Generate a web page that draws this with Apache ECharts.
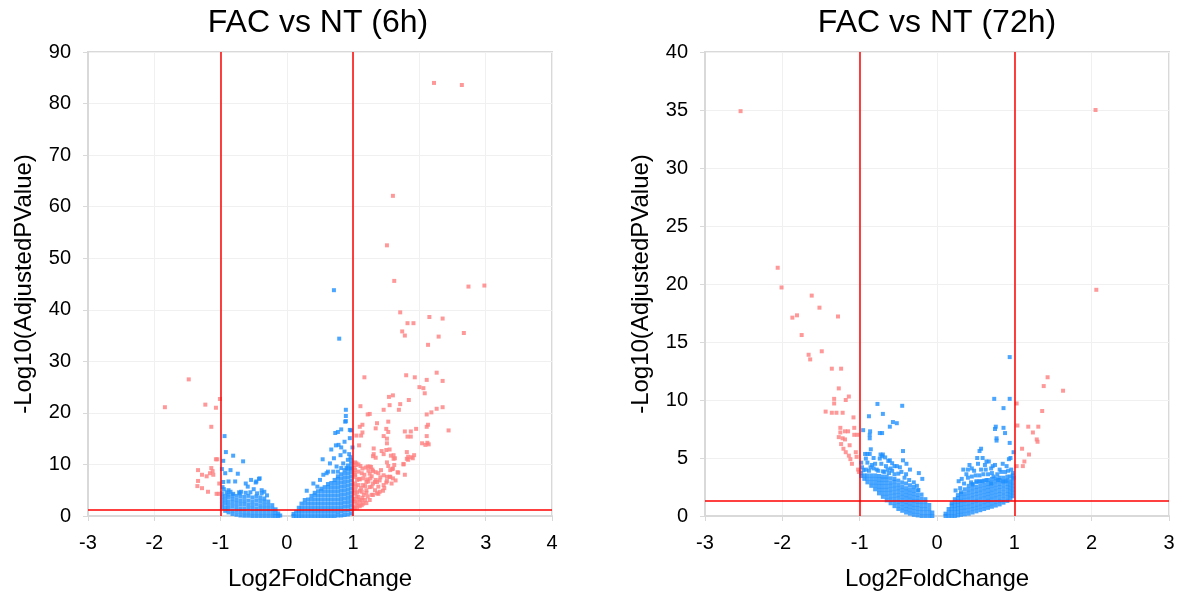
<!DOCTYPE html>
<html>
<head>
<meta charset="utf-8">
<title>FAC vs NT volcano plots</title>
<script src="https://cdn.jsdelivr.net/npm/echarts@6/dist/echarts.min.js"></script>
<style>
  html, body { margin: 0; padding: 0; background: #fff; }
  #chart { width: 1179px; height: 594px; }
</style>
</head>
<body>
<div id="chart"></div>
<script>
// cut-offs drawn as red guide lines
const FC_CUT = 1;
const PADJ_LINE = 1.3;

// ---------- FAC vs NT (6h) ----------
// dense blue core, columns of [log2FC, [-log10 padj ...]]
const h6NegCore = [
  [-0.98, [1.6, 2.3, 3.0, 3.7, 4.4]],
  [-0.93, [1.0, 1.7, 2.5, 3.2, 3.9]],
  [-0.88, [0.7, 1.4, 2.1, 2.8, 3.6, 4.2]],
  [-0.82, [0.4, 1.1, 1.9, 2.6, 3.3, 4.0]],
  [-0.76, [0.25, 1.0, 1.7, 2.4, 3.1, 3.9]],
  [-0.70, [0.1, 0.8, 1.5, 2.3, 3.0, 3.8]],
  [-0.64, [0.05, 0.7, 1.4, 2.2, 2.9, 3.7]],
  [-0.58, [0.05, 0.7, 1.5, 2.2, 3.0, 3.9]],
  [-0.52, [0.0, 0.7, 1.4, 2.1, 2.8, 3.6]],
  [-0.46, [0.0, 0.7, 1.4, 2.2, 3.0, 3.8]],
  [-0.40, [0.0, 0.7, 1.4, 2.1, 2.9, 3.6]],
  [-0.34, [0.0, 0.7, 1.4, 2.1, 2.8, 3.4]],
  [-0.28, [0.0, 0.7, 1.4, 2.1, 2.8]],
  [-0.22, [0.0, 0.7, 1.4, 2.1]],
  [-0.17, [0.0, 0.6, 1.3]],
  [-0.13, [0.0, 0.5]],
  [-0.10, [0.1]]
];
const h6PosCore = [
  [0.10, [0.0, 0.4]],
  [0.14, [0.0, 0.8]],
  [0.18, [0.0, 0.8, 1.6]],
  [0.22, [0.0, 0.8, 1.6, 2.4]],
  [0.27, [0.0, 0.8, 1.6, 2.4, 3.1]],
  [0.32, [0.0, 0.8, 1.6, 2.4, 3.2]],
  [0.37, [0.0, 0.8, 1.6, 2.4, 3.2, 3.9]],
  [0.42, [0.0, 0.8, 1.6, 2.4, 3.2, 4.0, 4.5]],
  [0.47, [0.0, 0.8, 1.6, 2.4, 3.2, 4.0, 4.8]],
  [0.52, [0.0, 0.8, 1.6, 2.4, 3.2, 4.0, 4.8, 5.3]],
  [0.57, [0.0, 0.8, 1.6, 2.4, 3.2, 4.0, 4.8, 5.6]],
  [0.62, [0.0, 0.8, 1.6, 2.4, 3.2, 4.0, 4.8, 5.6, 6.2]],
  [0.67, [0.0, 0.8, 1.6, 2.4, 3.2, 4.0, 4.8, 5.6, 6.4]],
  [0.72, [0.0, 0.8, 1.6, 2.4, 3.2, 4.0, 4.8, 5.6, 6.4, 7.0]],
  [0.77, [0.1, 0.8, 1.6, 2.4, 3.2, 4.0, 4.8, 5.6, 6.4, 7.2, 7.7]],
  [0.82, [0.1, 0.9, 1.7, 2.5, 3.3, 4.1, 4.9, 5.7, 6.5, 7.3, 8.1]],
  [0.87, [0.2, 1.0, 1.8, 2.6, 3.4, 4.2, 5.0, 5.8, 6.6, 7.4, 8.2, 8.9]],
  [0.92, [0.3, 1.1, 1.9, 2.7, 3.5, 4.3, 5.1, 5.9, 6.7, 7.5, 8.3, 9.1, 9.8]],
  [0.97, [0.5, 1.3, 2.1, 2.9, 3.7, 4.5, 5.3, 6.1, 6.9, 7.7, 8.5, 9.3, 10.1, 10.8]]
];
const h6Blue = [
  [0.71, 43.8], [0.79, 34.4], [0.89, 20.6], [0.89, 19.4], [0.89, 18.4], [0.82, 16.8], [0.77, 16.3],
  [0.73, 16.1], [0.97, 16.6], [0.87, 14.4], [0.95, 15.1], [0.74, 13.7], [0.67, 12.9], [0.82, 13.3],
  [0.87, 12.5], [0.99, 13.3], [0.81, 11.8], [0.71, 11.2], [0.54, 11.0], [0.65, 10.2], [0.92, 10.9],
  [0.85, 10.2], [0.75, 9.6], [0.82, 9.3], [0.90, 9.3], [0.97, 9.2], [0.62, 8.6], [0.70, 8.6],
  [0.77, 8.6], [0.55, 8.0], [0.50, 7.0], [0.40, 6.3], [0.30, 4.9], [0.46, 5.7], [0.60, 8.3],
  [0.78, 13.8], [0.95, 16.7], [0.88, 18.3], [0.94, 12.0], [0.96, 11.4],
  [-0.94, 15.5], [-0.92, 12.4], [-0.81, 11.7], [-0.66, 10.6], [-0.96, 10.7], [-0.98, 9.1],
  [-0.93, 8.3], [-0.85, 8.9], [-0.74, 8.2], [-0.96, 6.6], [-0.88, 6.7], [-0.78, 6.7], [-0.54, 7.0],
  [-0.42, 7.2], [-0.62, 6.3], [-0.47, 6.5], [-0.59, 5.7], [-0.34, 4.7], [-0.88, 5.0], [-0.81, 4.3],
  [-0.71, 4.4], [-0.46, 6.7], [-0.41, 7.3], [-0.69, 4.7], [-0.50, 5.2], [-0.38, 5.0], [-0.97, 5.6],
  [-0.91, 4.6], [-0.95, 5.2], [-0.85, 4.7], [-0.72, 4.6], [-0.62, 4.5], [-0.55, 4.6], [-0.45, 4.4],
  [-0.38, 4.4], [-0.30, 4.0]
];
const h6Red = [
  [2.22, 84.0], [2.64, 83.6], [1.60, 62.1], [1.51, 52.5], [1.62, 45.6], [2.74, 44.5], [2.98, 44.7],
  [1.71, 39.5], [1.82, 37.4], [1.91, 37.4], [2.15, 38.6], [2.35, 38.3], [1.74, 35.8], [1.78, 35.0],
  [2.67, 35.5], [2.29, 34.8], [2.13, 33.2],
  [1.17, 26.9], [1.80, 27.3], [1.93, 26.9], [2.11, 26.4], [2.26, 27.8], [2.35, 26.2], [2.00, 25.0],
  [2.06, 24.8], [2.08, 23.8], [1.54, 23.1], [1.60, 23.4], [1.84, 22.5], [1.71, 21.7], [1.55, 21.5],
  [1.11, 21.3], [1.46, 20.6], [1.69, 20.6], [2.35, 21.1], [2.26, 20.8], [2.18, 20.1], [2.11, 19.7],
  [1.25, 19.8], [1.22, 19.7], [1.53, 18.3], [1.36, 18.0], [1.14, 17.7], [2.13, 17.7], [2.11, 17.3],
  [1.34, 17.0], [1.10, 17.3], [1.50, 16.9], [1.53, 16.3], [2.44, 16.6], [1.78, 16.4], [1.87, 16.4],
  [1.95, 16.9], [1.82, 15.4], [1.87, 15.4], [2.11, 15.5], [1.14, 16.2], [1.12, 15.6], [1.05, 15.6],
  [1.46, 15.5], [1.51, 15.0], [1.51, 14.1], [2.04, 14.1], [2.12, 14.2], [2.09, 13.8], [2.14, 13.9],
  [1.09, 13.7], [1.31, 13.1], [1.43, 12.6], [1.50, 12.8], [1.55, 12.9], [1.81, 12.4], [1.31, 12.0],
  [1.46, 12.0], [1.57, 11.7], [1.83, 11.5], [1.92, 11.8], [1.81, 11.1], [1.61, 11.1], [1.51, 10.4],
  [1.62, 9.9], [1.76, 10.0], [1.03, 10.4], [1.08, 10.0], [1.14, 9.2], [1.22, 9.6], [1.27, 9.5],
  [1.30, 8.7], [1.34, 8.5], [1.25, 8.2], [1.59, 9.1], [1.67, 8.5], [1.78, 8.0], [1.51, 7.6],
  [1.55, 7.6], [1.64, 6.9], [1.58, 6.3], [1.40, 6.9], [1.33, 6.6], [1.20, 6.6], [1.09, 7.2],
  [1.15, 6.0], [1.25, 5.6], [1.45, 4.9], [1.38, 4.3], [1.30, 4.1], [1.20, 4.5], [1.10, 4.9],
  [1.05, 3.8], [1.13, 3.1], [1.20, 2.5], [1.08, 2.1], [1.03, 2.8], [1.03, 5.0], [1.03, 6.3],
  [1.03, 7.6], [1.02, 8.4], [1.04, 5.7],
  [1.05, 10.2], [1.11, 9.7], [1.19, 9.4], [1.25, 9.6], [1.29, 9.0], [1.23, 8.8], [1.53, 9.7],
  [1.60, 9.2], [1.56, 8.9], [1.68, 8.4], [1.41, 7.5], [1.34, 7.0], [1.26, 7.3], [1.23, 6.7],
  [1.15, 7.3], [1.10, 7.1], [1.08, 6.0], [1.56, 7.6], [1.60, 7.3], [1.51, 6.8], [1.46, 6.0],
  [1.38, 5.7], [1.33, 5.0], [1.28, 5.7], [1.20, 5.0], [1.13, 4.7], [1.16, 4.1], [1.08, 3.7],
  [1.03, 4.4], [1.10, 2.8], [1.05, 2.5], [1.18, 3.1], [1.36, 4.4], [1.28, 4.1], [1.30, 11.6],
  [1.34, 11.3], [1.61, 11.8], [1.63, 11.2], [1.88, 11.4], [1.76, 10.1], [1.83, 10.9], [1.90, 11.2],
  [1.42, 8.9], [1.46, 7.9], [1.38, 8.3], [1.13, 8.3], [1.03, 8.0], [1.03, 8.9], [1.04, 9.9],
  [1.03, 1.8], [1.13, 2.1], [1.25, 3.1], [1.40, 4.7], [1.02, 1.5], [1.06, 1.6], [1.10, 1.9],
  [1.15, 2.4], [1.08, 3.2], [1.14, 3.5], [1.22, 3.8], [1.02, 3.3], [1.06, 4.6], [1.12, 5.4],
  [1.18, 5.8], [1.06, 7.0], [1.02, 9.3], [1.08, 8.6], [1.17, 8.0], [1.21, 7.1], [1.30, 6.3],
  [1.36, 6.6], [1.28, 7.7], [1.47, 5.4], [1.50, 6.5],
  [-1.48, 26.5], [-1.84, 21.1], [-1.23, 21.6], [-1.07, 21.0], [-1.01, 22.7], [-1.14, 17.3],
  [-1.07, 11.0], [-1.05, 11.0], [-1.34, 8.9], [-1.28, 8.0], [-1.21, 7.7], [-1.14, 9.3], [-1.12, 8.7],
  [-1.16, 8.3], [-1.11, 8.0], [-1.34, 6.8], [-1.35, 5.8], [-1.28, 5.4], [-1.19, 4.7], [-1.06, 4.3],
  [-1.03, 4.3], [-1.02, 6.3]
];

// ---------- FAC vs NT (72h) ----------
const h72NegCore = [
  [-0.98, [3.45, 3.7]],
  [-0.94, [3.2, 3.5]],
  [-0.90, [2.9, 3.2, 3.5]],
  [-0.85, [2.6, 2.9, 3.2, 3.5]],
  [-0.80, [2.3, 2.6, 2.9, 3.2, 3.5]],
  [-0.75, [1.95, 2.25, 2.55, 2.85, 3.15, 3.45]],
  [-0.70, [1.65, 1.95, 2.25, 2.55, 2.85, 3.15, 3.4]],
  [-0.65, [1.35, 1.65, 1.95, 2.25, 2.55, 2.85, 3.15, 3.4]],
  [-0.60, [1.1, 1.4, 1.7, 2.0, 2.3, 2.6, 2.9, 3.25]],
  [-0.55, [0.85, 1.15, 1.45, 1.75, 2.05, 2.35, 2.65, 2.95, 3.2]],
  [-0.50, [0.6, 0.9, 1.2, 1.5, 1.8, 2.1, 2.4, 2.7, 3.05]],
  [-0.45, [0.45, 0.75, 1.05, 1.35, 1.65, 1.95, 2.25, 2.55, 2.9]],
  [-0.40, [0.3, 0.6, 0.9, 1.2, 1.5, 1.8, 2.1, 2.4, 2.8]],
  [-0.35, [0.2, 0.5, 0.8, 1.1, 1.4, 1.7, 2.0, 2.3, 2.65]],
  [-0.30, [0.1, 0.4, 0.7, 1.0, 1.3, 1.6, 1.9, 2.2, 2.5]],
  [-0.25, [0.05, 0.35, 0.65, 0.95, 1.25, 1.55, 1.85, 2.2]],
  [-0.20, [0.0, 0.3, 0.6, 0.9, 1.2, 1.5, 1.85]],
  [-0.15, [0.0, 0.3, 0.6, 0.9, 1.2, 1.45]],
  [-0.10, [0.0, 0.3, 0.6, 0.95]],
  [-0.06, [0.0, 0.3]]
];
const h72PosCore = [
  [0.11, [0.0, 0.2]],
  [0.15, [0.0, 0.3, 0.6]],
  [0.19, [0.0, 0.3, 0.6, 0.9, 1.1]],
  [0.23, [0.0, 0.3, 0.6, 0.9, 1.2, 1.45]],
  [0.27, [0.05, 0.35, 0.65, 0.95, 1.25, 1.55, 1.8]],
  [0.31, [0.1, 0.4, 0.7, 1.0, 1.3, 1.6, 1.9, 2.05]],
  [0.36, [0.15, 0.45, 0.75, 1.05, 1.35, 1.65, 1.95, 2.3]],
  [0.41, [0.2, 0.5, 0.8, 1.1, 1.4, 1.7, 2.0, 2.3, 2.6]],
  [0.46, [0.3, 0.6, 0.9, 1.2, 1.5, 1.8, 2.1, 2.4, 2.75]],
  [0.51, [0.4, 0.7, 1.0, 1.3, 1.6, 1.9, 2.2, 2.5, 2.9]],
  [0.56, [0.5, 0.8, 1.1, 1.4, 1.7, 2.0, 2.3, 2.6, 2.95]],
  [0.61, [0.6, 0.9, 1.2, 1.5, 1.8, 2.1, 2.4, 2.7, 3.05]],
  [0.66, [0.7, 1.0, 1.3, 1.6, 1.9, 2.2, 2.5, 2.8, 3.1]],
  [0.71, [0.8, 1.1, 1.4, 1.7, 2.0, 2.3, 2.6, 2.9, 3.2]],
  [0.76, [0.9, 1.2, 1.5, 1.8, 2.1, 2.4, 2.7, 3.0, 3.25]],
  [0.81, [1.0, 1.3, 1.6, 1.9, 2.2, 2.5, 2.8, 3.1, 3.3]],
  [0.86, [1.15, 1.45, 1.75, 2.05, 2.35, 2.65, 2.95, 3.3]],
  [0.91, [1.3, 1.6, 1.9, 2.2, 2.5, 2.8, 3.1, 3.4]],
  [0.95, [1.5, 1.8, 2.1, 2.4, 2.7, 3.0, 3.4]],
  [0.98, [1.7, 2.0, 2.3, 2.6, 2.9, 3.2, 3.5]]
];
const h72Blue = [
  [0.94, 13.7], [0.74, 10.1], [0.94, 10.1], [0.86, 9.3], [-0.77, 9.66], [-0.45, 9.5], [-0.88, 8.6],
  [-0.70, 8.8], [-0.57, 8.1], [-0.52, 8.0], [-0.61, 7.7], [-0.955, 7.4], [-0.865, 7.3], [-0.87, 7.0],
  [-0.74, 7.15], [-0.71, 7.15], [-0.87, 6.7], [0.75, 7.5], [0.76, 7.7], [0.86, 7.6], [0.88, 7.15],
  [0.77, 6.7], [0.77, 6.5], [0.94, 6.3], [0.99, 5.5], [0.95, 5.0], [0.93, 4.9], [-0.44, 5.6],
  [-0.856, 5.75], [-0.87, 5.35], [-0.93, 5.35], [-0.90, 5.35], [-0.73, 5.3], [-0.70, 5.3],
  [-0.74, 4.95], [-0.71, 5.15], [-0.61, 4.8], [-0.58, 4.55], [-0.395, 4.5], [-0.55, 4.3],
  [-0.35, 4.0], [-0.235, 3.7], [-0.19, 3.2], [-0.24, 2.24], [0.57, 5.8], [0.55, 5.6], [0.52, 5.0],
  [0.59, 5.0], [0.64, 4.7], [0.67, 4.7], [0.72, 4.3], [0.75, 4.4], [0.81, 4.0], [0.34, 4.0],
  [0.40, 4.0], [0.45, 4.1], [0.48, 3.9], [0.57, 4.0], [0.63, 4.0], [0.32, 3.2], [0.71, 3.7],
  [0.73, 3.4], [0.70, 2.8], [0.98, 3.7], [0.99, 3.3], [0.89, 3.0], [0.85, 3.0], [0.79, 3.1],
  [0.51, 3.0], [0.55, 3.0], [0.59, 3.0], [0.64, 3.1], [0.44, 2.9], [0.46, 2.7],
  [-0.95, 3.95], [-0.88, 3.9], [-0.82, 4.1], [-0.76, 3.9], [-0.70, 3.85], [-0.62, 3.7],
  [-0.55, 3.6], [-0.50, 3.65], [-0.42, 3.3], [-0.36, 3.1], [-0.30, 2.9], [-0.26, 2.6],
  [-0.66, 4.3], [-0.84, 4.4], [-0.60, 4.1], [-0.48, 4.2],
  [-0.97, 4.2], [-0.92, 4.0], [-0.90, 4.6], [-0.80, 4.5], [-0.78, 4.0], [-0.72, 4.5], [-0.68, 3.8],
  [-0.64, 4.0], [-0.58, 3.9], [-0.52, 4.3], [-0.46, 3.8], [-0.40, 3.6], [-0.44, 4.8], [-0.63, 4.75],
  [-0.67, 5.05], [-0.82, 5.0], [-0.92, 4.95], [-0.98, 4.6], [-0.86, 4.2],
  [0.30, 2.4], [0.35, 2.8], [0.40, 3.3], [0.45, 3.4], [0.50, 3.5], [0.55, 3.5], [0.60, 3.6],
  [0.66, 3.6], [0.70, 4.1], [0.78, 3.6], [0.83, 3.8], [0.88, 3.8], [0.92, 3.9], [0.96, 4.0],
  [0.90, 4.3], [0.85, 4.5], [0.62, 4.4], [0.38, 3.6], [0.42, 4.4], [0.53, 4.5], [0.28, 3.0],
  [0.24, 2.2]
];
const h72Red = [
  [-2.54, 34.9], [2.05, 35.0], [-2.06, 21.4], [-2.01, 19.7], [2.06, 19.5], [-1.62, 19.0],
  [-1.52, 17.96], [-1.87, 17.1], [-1.81, 17.3], [-1.28, 17.2], [-1.75, 15.6], [-1.49, 14.2],
  [-1.66, 13.9], [-1.64, 13.5], [-1.36, 12.7], [-1.24, 12.7], [-1.27, 11.0], [-1.33, 10.1],
  [-1.33, 9.7], [-1.14, 10.3], [-1.18, 10.0], [-1.44, 9.0], [-1.36, 8.9], [-1.30, 8.9],
  [-1.22, 8.9], [-1.08, 8.5], [-1.25, 7.6], [-1.25, 7.2], [-1.19, 7.3], [-1.15, 7.3], [-1.07, 7.6],
  [-1.07, 7.0], [-1.03, 7.0], [-1.27, 6.8], [-1.22, 6.7], [-1.19, 6.6], [-1.24, 6.2], [-1.13, 6.1],
  [-1.21, 5.8], [-1.18, 5.5], [-1.05, 5.5], [-1.14, 5.2], [-1.12, 4.9], [-1.04, 5.1], [-1.10, 4.5],
  [-1.02, 4.0], [-1.01, 3.8],
  [1.43, 11.96], [1.38, 11.2], [1.63, 10.8], [1.03, 9.7], [1.36, 9.05], [1.04, 7.8], [1.18, 7.7],
  [1.31, 7.7], [1.24, 7.2], [1.29, 6.6], [1.30, 6.4], [1.10, 5.8], [1.19, 5.3], [1.13, 4.7],
  [1.03, 4.3], [1.11, 4.3]
];

// axis ranges / ticks
const h6X = { min: -3, max: 4, step: 1 };
const h6Y = { min: 0, max: 90, step: 10 };
const h72X = { min: -3, max: 3, step: 1 };
const h72Y = { min: 0, max: 40, step: 5 };

const BLUE = "#1e90ff";
const RED = "#ff8080";
const FONT = "Liberation Sans, Arial, sans-serif";

function flatten(cols) {
  const out = [];
  for (const [x, ys] of cols) for (const y of ys) out.push([x, y]);
  return out;
}

function xAxisOf(idx, r) {
  return {
    gridIndex: idx, type: "value", min: r.min, max: r.max, interval: r.step,
    name: "Log2FoldChange", nameLocation: "middle", nameGap: 51,
    nameTextStyle: { fontSize: 24, color: "#000", fontFamily: FONT },
    axisLine: { show: true, onZero: false, lineStyle: { color: "#d9d9d9", width: 2 } },
    axisTick: { show: true, length: 5, lineStyle: { color: "#d9d9d9", width: 1 } },
    axisLabel: { fontSize: 20, color: "#000", margin: 17, fontFamily: FONT },
    splitLine: { show: true, lineStyle: { color: "#f0f0f0", width: 1 } }
  };
}

function yAxisOf(idx, r) {
  return {
    gridIndex: idx, type: "value", min: r.min, max: r.max, interval: r.step,
    name: "-Log10(AdjustedPValue)", nameLocation: "middle", nameGap: 52,
    nameTextStyle: { fontSize: 24, color: "#000", fontFamily: FONT },
    axisLine: { show: true, onZero: false, lineStyle: { color: "#d9d9d9", width: 2 } },
    axisTick: { show: true, length: 5, lineStyle: { color: "#d9d9d9", width: 1 } },
    axisLabel: { fontSize: 20, color: "#000", margin: 17, fontFamily: FONT },
    splitLine: { show: true, lineStyle: { color: "#f0f0f0", width: 1 } }
  };
}

function seriesOf(idx, blue, red) {
  return [
    {
      type: "scatter", xAxisIndex: idx, yAxisIndex: idx, data: blue,
      symbol: "rect", symbolSize: 4, itemStyle: { color: BLUE }, silent: true
    },
    {
      type: "scatter", xAxisIndex: idx, yAxisIndex: idx, data: red,
      symbol: "rect", symbolSize: 4, itemStyle: { color: RED }, silent: true,
      markLine: {
        silent: true, symbol: "none", label: { show: false },
        lineStyle: { color: "#ff0000", width: 1.5, type: "solid" },
        data: [{ xAxis: -FC_CUT }, { xAxis: FC_CUT }, { yAxis: PADJ_LINE }]
      }
    }
  ];
}

const chart = echarts.init(document.getElementById("chart"));
chart.setOption({
  animation: false,
  backgroundColor: "#fff",
  title: [
    { text: "FAC vs NT (6h)", left: 313, top: 2, textAlign: "center",
      textStyle: { fontSize: 32, fontWeight: "normal", color: "#000", fontFamily: FONT } },
    { text: "FAC vs NT (72h)", left: 932, top: 2, textAlign: "center",
      textStyle: { fontSize: 32, fontWeight: "normal", color: "#000", fontFamily: FONT } }
  ],
  grid: [
    { left: 88, right: 627, top: 52, bottom: 78, outerBoundsMode: "none",
      show: true, borderColor: "#d9d9d9", borderWidth: 2 },
    { left: 705, right: 10, top: 52, bottom: 78, outerBoundsMode: "none",
      show: true, borderColor: "#d9d9d9", borderWidth: 2 }
  ],
  xAxis: [xAxisOf(0, h6X), xAxisOf(1, h72X)],
  yAxis: [yAxisOf(0, h6Y), yAxisOf(1, h72Y)],
  series: [
    ...seriesOf(0, flatten(h6NegCore).concat(flatten(h6PosCore), h6Blue), h6Red),
    ...seriesOf(1, flatten(h72NegCore).concat(flatten(h72PosCore), h72Blue), h72Red)
  ]
});
</script>
</body>
</html>
